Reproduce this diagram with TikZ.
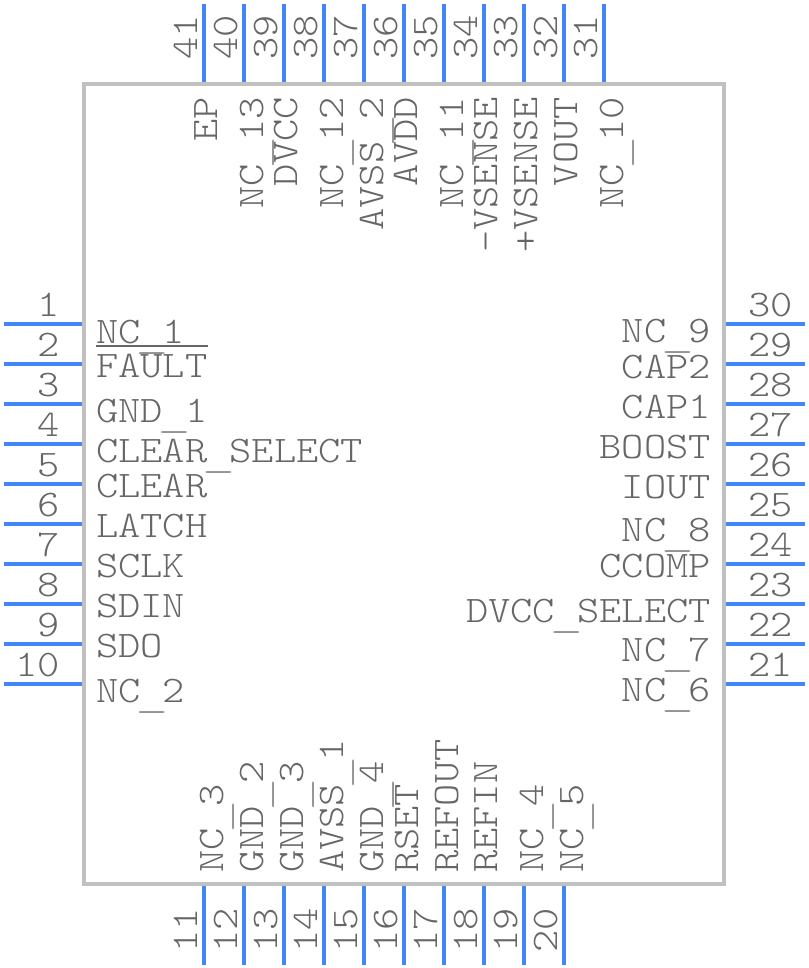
\documentclass[tikz,border=0pt]{standalone}
\usepackage{fontspec}
\setmonofont{Latin Modern Mono Light}[FakeStretch=1.13]
\usetikzlibrary{positioning}
\definecolor{pincolor}{HTML}{4287F5}
\definecolor{bodycolor}{HTML}{C0C0C0}
\definecolor{textcolor}{HTML}{666666}
\newcommand{\us}{\raisebox{-6.5pt}{\makebox[22.25pt]{\scalebox{1.5}[0.7]{\_}}}}
\tikzset{
  chip/.style={draw=bodycolor,line width=4pt,minimum width=640pt,minimum height=800pt,inner sep=0pt},
  pin/.style={draw=pincolor,line width=4pt},
  txt/.style={inner sep=0pt,text=textcolor,font=\fontsize{37.5}{38}\ttfamily\selectfont},
  lbl/.style={txt,anchor=base west},
  lbr/.style={txt,anchor=base east},
  lbt/.style={txt,rotate=90,anchor=base east},
  lbb/.style={txt,rotate=90,anchor=base west},
}
\begin{document}
\begin{tikzpicture}[x=1pt,y=-1pt]
  \useasboundingbox (0,0) rectangle (808,968);
  \node[chip] (U) at (404,484) {};

  % left side
  \coordinate (p1)  at (4,323.5);
  \coordinate (p2)  at (4,363.5);
  \coordinate (p3)  at (4,403.5);
  \coordinate (p4)  at (4,443.5);
  \coordinate (p5)  at (4,483.5);
  \coordinate (p6)  at (4,523.5);
  \coordinate (p7)  at (4,563.5);
  \coordinate (p8)  at (4,603.5);
  \coordinate (p9)  at (4,643.5);
  \coordinate (p10) at (4,683.5);
  % bottom side
  \coordinate (p11) at (204,965);
  \coordinate (p12) at (244,965);
  \coordinate (p13) at (284,965);
  \coordinate (p14) at (324,965);
  \coordinate (p15) at (364,965);
  \coordinate (p16) at (404,965);
  \coordinate (p17) at (444,965);
  \coordinate (p18) at (484,965);
  \coordinate (p19) at (524,965);
  \coordinate (p20) at (564,965);
  % right side
  \coordinate (p21) at (805,683.5);
  \coordinate (p22) at (805,643.5);
  \coordinate (p23) at (805,603.5);
  \coordinate (p24) at (805,563.5);
  \coordinate (p25) at (805,523.5);
  \coordinate (p26) at (805,483.5);
  \coordinate (p27) at (805,443.5);
  \coordinate (p28) at (805,403.5);
  \coordinate (p29) at (805,363.5);
  \coordinate (p30) at (805,323.5);
  % top side
  \coordinate (p31) at (604,4);
  \coordinate (p32) at (564,4);
  \coordinate (p33) at (524,4);
  \coordinate (p34) at (484,4);
  \coordinate (p35) at (444,4);
  \coordinate (p36) at (404,4);
  \coordinate (p37) at (364,4);
  \coordinate (p38) at (324,4);
  \coordinate (p39) at (284,4);
  \coordinate (p40) at (244,4);
  \coordinate (p41) at (204,4);

  \path[pin] (p1)  -- (p1 -| U.west)   (p2)  -- (p2 -| U.west)
             (p3)  -- (p3 -| U.west)   (p4)  -- (p4 -| U.west)
             (p5)  -- (p5 -| U.west)   (p6)  -- (p6 -| U.west)
             (p7)  -- (p7 -| U.west)   (p8)  -- (p8 -| U.west)
             (p9)  -- (p9 -| U.west)   (p10) -- (p10 -| U.west)
             (p11) -- (p11 |- U.south) (p12) -- (p12 |- U.south)
             (p13) -- (p13 |- U.south) (p14) -- (p14 |- U.south)
             (p15) -- (p15 |- U.south) (p16) -- (p16 |- U.south)
             (p17) -- (p17 |- U.south) (p18) -- (p18 |- U.south)
             (p19) -- (p19 |- U.south) (p20) -- (p20 |- U.south)
             (p21) -- (p21 -| U.east)  (p22) -- (p22 -| U.east)
             (p23) -- (p23 -| U.east)  (p24) -- (p24 -| U.east)
             (p25) -- (p25 -| U.east)  (p26) -- (p26 -| U.east)
             (p27) -- (p27 -| U.east)  (p28) -- (p28 -| U.east)
             (p29) -- (p29 -| U.east)  (p30) -- (p30 -| U.east)
             (p31) -- (p31 |- U.north) (p32) -- (p32 |- U.north)
             (p33) -- (p33 |- U.north) (p34) -- (p34 |- U.north)
             (p35) -- (p35 |- U.north) (p36) -- (p36 |- U.north)
             (p37) -- (p37 |- U.north) (p38) -- (p38 |- U.north)
             (p39) -- (p39 |- U.north) (p40) -- (p40 |- U.north)
             (p41) -- (p41 |- U.north);

  % pin numbers
  \node[lbr] (n1)  at (60,316) {1};
  \node[lbr] (n2)  at (60,356) {2};
  \node[lbr] (n3)  at (60,396) {3};
  \node[lbr] (n4)  at (60,436) {4};
  \node[lbr] (n5)  at (60,476) {5};
  \node[lbr] (n6)  at (60,516) {6};
  \node[lbr] (n7)  at (60,556) {7};
  \node[lbr] (n8)  at (60,596) {8};
  \node[lbr] (n9)  at (60,636) {9};
  \node[lbr] (n10) at (60,676) {10};
  \node[lbb] (n11) at (197,953) {11};
  \node[lbb] (n12) at (237,953) {12};
  \node[lbb] (n13) at (277,953) {13};
  \node[lbb] (n14) at (317,953) {14};
  \node[lbb] (n15) at (357,953) {15};
  \node[lbb] (n16) at (397,953) {16};
  \node[lbb] (n17) at (437,953) {17};
  \node[lbb] (n18) at (477,953) {18};
  \node[lbb] (n19) at (517,953) {19};
  \node[lbb] (n20) at (557,953) {20};
  \node[lbl] (n21) at (748,676) {21};
  \node[lbl] (n22) at (748,636) {22};
  \node[lbl] (n23) at (748,596) {23};
  \node[lbl] (n24) at (748,556) {24};
  \node[lbl] (n25) at (748,516) {25};
  \node[lbl] (n26) at (748,476) {26};
  \node[lbl] (n27) at (748,436) {27};
  \node[lbl] (n28) at (748,396) {28};
  \node[lbl] (n29) at (748,356) {29};
  \node[lbl] (n30) at (748,316) {30};
  \node[lbt] (n31) at (597,15) {31};
  \node[lbt] (n32) at (557,15) {32};
  \node[lbt] (n33) at (517,15) {33};
  \node[lbt] (n34) at (477,15) {34};
  \node[lbt] (n35) at (437,15) {35};
  \node[lbt] (n36) at (397,15) {36};
  \node[lbt] (n37) at (357,15) {37};
  \node[lbt] (n38) at (317,15) {38};
  \node[lbt] (n39) at (277,15) {39};
  \node[lbt] (n40) at (237,15) {40};
  \node[lbt] (n41) at (197,15) {41};

  % pin names
  \node[lbl] (nc1)     at (96,343) {NC\us 1};
  \node[lbl] (fault)   at (96,377) {FAULT};
  \node[lbl] (gnd1)    at (96,422) {GND\us 1};
  \node[lbl] (clrsel)  at (96,462) {CLEAR\us SELECT};
  \node[lbl] (clear)   at (96,497) {CLEAR};
  \node[lbl] (latch)   at (96,537) {LATCH};
  \node[lbl] (sclk)    at (96,577) {SCLK};
  \node[lbl] (sdin)    at (96,617) {SDIN};
  \node[lbl] (sdo)     at (96,657) {SDO};
  \node[lbl] (nc2)     at (96,702) {NC\us 2};
  \node[lbb] (nc3)     at (223,873) {NC\us 3};
  \node[lbb] (gnd2)    at (263,873) {GND\us 2};
  \node[lbb] (gnd3)    at (303,873) {GND\us 3};
  \node[lbb] (avss1)   at (343,873) {AVSS\us 1};
  \node[lbb] (gnd4)    at (383,873) {GND\us 4};
  \node[lbb] (rset)    at (418,873) {RSET};
  \node[lbb] (refout)  at (458,873) {REFOUT};
  \node[lbb] (refin)   at (497,873) {REFIN};
  \node[lbb] (nc4)     at (543,873) {NC\us 4};
  \node[lbb] (nc5)     at (583,873) {NC\us 5};
  \node[lbr] (nc6)     at (711,701) {NC\us 6};
  \node[lbr] (nc7)     at (711,661) {NC\us 7};
  \node[lbr] (dvccsel) at (711,622) {DVCC\us SELECT};
  \node[lbr] (ccomp)   at (711,577) {CCOMP};
  \node[lbr] (nc8)     at (711,541) {NC\us 8};
  \node[lbr] (iout)    at (711,498) {IOUT};
  \node[lbr] (boost)   at (711,458) {BOOST};
  \node[lbr] (cap1)    at (711,418) {CAP1};
  \node[lbr] (cap2)    at (711,378) {CAP2};
  \node[lbr] (nc9)     at (711,342) {NC\us 9};
  \node[lbt] (nc10)    at (623,97) {NC\us 10};
  \node[lbt] (vout)    at (577,97) {VOUT};
  \node[lbt] (vsensep) at (537,97) {+VSENSE};
  \node[lbt] (vsensem) at (497,97) {-VSENSE};
  \node[lbt] (nc11)    at (463,97) {NC\us 11};
  \node[lbt] (avdd)    at (417,97) {AVDD};
  \node[lbt] (avss2)   at (383,97) {AVSS\us 2};
  \node[lbt] (nc12)    at (343,97) {NC\us 12};
  \node[lbt] (dvcc)    at (297,97) {DVCC};
  \node[lbt] (nc13)    at (263,97) {NC\us 13};
  \node[lbt] (ep)      at (217,97) {EP};

  % bar over FAULT
  \draw[textcolor,line width=1.5pt] (fault.base west |- 0,346) -- (fault.base east |- 0,346);
\end{tikzpicture}
\end{document}
